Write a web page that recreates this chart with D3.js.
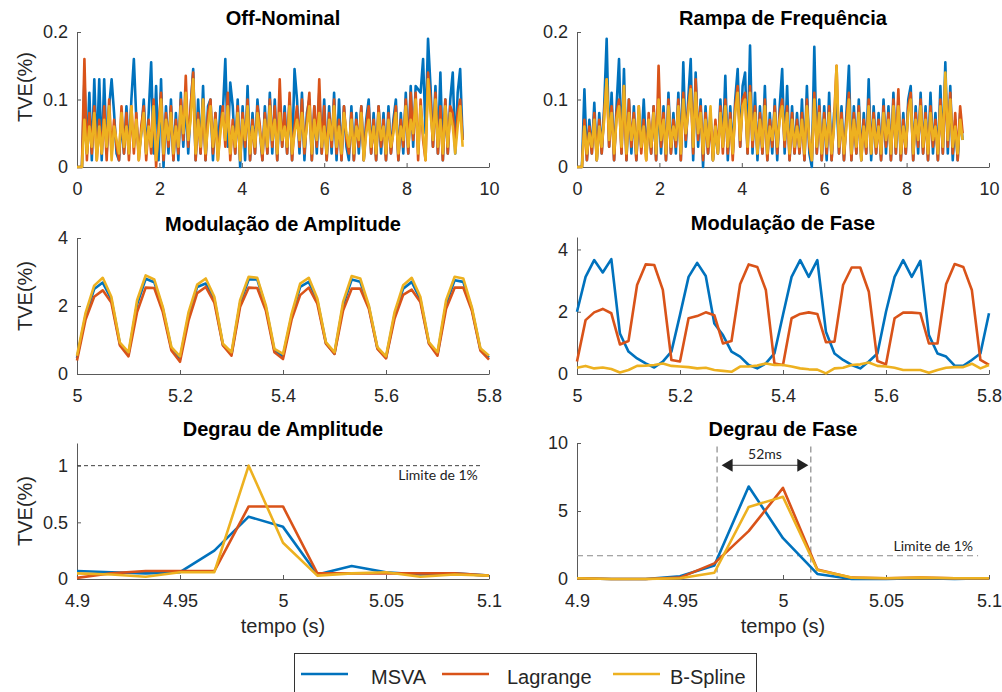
<!DOCTYPE html>
<html><head><meta charset="utf-8">
<script src="https://cdn.jsdelivr.net/npm/d3@7"></script>
<style>body{margin:0;background:#fff}svg text{font-family:"Liberation Sans",Arial,sans-serif}</style>
</head><body><svg id="c" width="1002" height="692"></svg>
<script>
// ---------------- data ----------------
const seriesNames = ["MSVA", "Lagrange", "B-Spline"];
const seriesColors = ["#0072BD", "#D95319", "#EDB120"];

// Off-Nominal (sample step 0.06 s, 0 .. 9.36 s)
const offMSVA = [0,0,0,.13,.02,.11,.01,.13,.02,.13, .01,.13,.02,.09,.13,.08,.02,.01,.07,.02, .09,.02,.10,.16,.07,.02,.05,.10,.02,.08, .155,.02,.12,.01,.13,.00,.09,.02,.10,.01, .08,.01,.11,.03,.10,.02,.09,.145,.01,.10, .02,.12,.01,.09,.10,.01,.08,.02,.09,.08, .16,.03,.125,.09,.02,.10,.00,.09,.01,.12, .01,.08,.02,.10,.05,.01,.09,.02,.11,.02, .10,.01,.09,.03,.09,.02,.10,.01,.145,.10, .02,.11,.01,.08,.10,.01,.09,.02,.11,.02, .10,.01,.09,.02,.11,.01,.10,.01,.09,.03, .01,.09,.01,.08,.02,.09,.01,.07,.10,.02, .08,.01,.09,.02,.08,.01,.09,.02,.07,.10, .01,.08,.02,.11,.02,.12,.03,.12,.115,.11, .16,.05,.19,.12,.03,.12,.02,.14,.01,.10, .02,.10,.14,.02,.11,.145,.04];
const offLagrange = [0,0,0,.16,.01,.08,.02,.09,.01,.07, .02,.09,.01,.10,.02,.07,.03,.01,.09,.02, .08,.01,.09,.02,.08,.01,.06,.09,.01,.07, .02,.10,.00,.06,.11,.01,.08,.03,.09,.01, .07,.02,.10,.04,.135,.03,.09,.14,.01,.08, .02,.10,.01,.08,.10,.02,.08,.01,.06,.09, .03,.11,.01,.07,.02,.09,.01,.08,.03,.10, .01,.07,.02,.09,.06,.01,.08,.02,.10,.03, .09,.01,.13,.03,.08,.02,.11,.01,.06,.09, .03,.10,.02,.07,.11,.01,.09,.03,.13,.02, .09,.01,.08,.03,.10,.02,.07,.01,.09,.04, .02,.08,.01,.07,.03,.09,.01,.06,.09,.02, .07,.01,.09,.03,.07,.01,.08,.02,.06,.09, .01,.07,.03,.10,.02,.11,.04,.11,.01,.10, .04,.01,.14,.10,.03,.11,.02,.09,.01,.10, .02,.09,.08,.03,.08,.10,.04];
const offBSpline = [0,0,0,.07,.02,.06,.03,.08,.01,.06, .02,.07,.03,.09,.01,.06,.04,.02,.08,.03, .06,.02,.09,.03,.07,.01,.05,.08,.02,.06, .03,.09,.01,.05,.10,.02,.07,.04,.08,.02, .06,.03,.09,.05,.11,.04,.07,.13,.02,.07, .03,.10,.02,.06,.09,.03,.07,.01,.05,.08, .04,.09,.02,.06,.03,.08,.01,.07,.04,.09, .02,.06,.03,.08,.05,.02,.07,.03,.09,.04, .07,.02,.08,.04,.06,.03,.09,.02,.05,.07, .04,.08,.03,.06,.09,.02,.07,.04,.08,.03, .06,.02,.07,.04,.09,.03,.06,.02,.08,.05, .03,.07,.02,.06,.04,.08,.01,.05,.07,.03, .06,.02,.08,.04,.06,.02,.07,.03,.05,.08, .02,.06,.04,.09,.03,.07,.05,.10,.02,.09, .05,.01,.13,.08,.04,.10,.03,.07,.02,.09, .03,.08,.06,.02,.06,.09,.03];

// Rampa de Frequência (sample step 0.06 s)
const rampMSVA = [0,0,0,.115,.01,.07,.02,.095,.01,.08, .02,.09,.19,.03,.11,.01,.09,.16,.02,.145, .01,.10,.02,.09,.01,.08,.03,.10,.02,.07, .02,.09,.01,.10,.02,.09,.01,.11,.02,.08, .02,.11,.01,.155,.03,.10,.16,.01,.14,.03, .10,.00,.09,.02,.08,.01,.06,.02,.10,.03, .135,.01,.09,.02,.10,.145,.03,.12,.14,.02, .18,.02,.11,.01,.09,.02,.12,.01,.08,.02, .10,.01,.09,.145,.02,.12,.01,.09,.02,.08, .02,.10,.01,.12,.02,.00,.178,.02,.10,.01, .09,.01,.11,.01,.08,.10,.02,.09,.01,.08, .15,.01,.09,.02,.10,.01,.08,.02,.13,.01, .09,.02,.08,.01,.10,.02,.09,.01,.11,.02, .10,.01,.08,.02,.10,.12,.01,.09,.02,.11, .02,.09,.01,.11,.02,.08,.01,.12,.02,.155, .02,.12,.01,.07,.01,.08,.04];
const rampLagrange = [0,0,0,.07,.01,.06,.02,.08,.01,.07, .02,.08,.13,.03,.09,.01,.08,.10,.02,.12, .01,.10,.03,.08,.01,.09,.02,.07,.01,.08, .02,.09,.01,.15,.03,.08,.01,.10,.02,.07, .03,.10,.01,.11,.04,.09,.12,.02,.13,.04, .09,.01,.08,.02,.07,.01,.07,.02,.09,.02, .10,.02,.08,.01,.09,.12,.03,.10,.11,.02, .12,.03,.09,.02,.08,.02,.10,.01,.07,.03, .09,.02,.08,.10,.03,.09,.01,.08,.02,.07, .02,.08,.01,.10,.03,.01,.11,.02,.09,.01, .08,.02,.09,.01,.07,.15,.02,.08,.01,.07, .11,.01,.08,.02,.09,.01,.07,.02,.10,.02, .08,.02,.07,.01,.09,.03,.08,.01,.10,.02, .115,.01,.07,.02,.09,.11,.01,.08,.03,.10, .02,.08,.01,.09,.03,.07,.01,.10,.02,.13, .03,.11,.02,.08,.01,.09,.05];
const rampBSpline = [0,0,0,.06,.02,.05,.03,.07,.01,.06, .03,.07,.13,.04,.08,.02,.07,.09,.03,.12, .02,.08,.04,.07,.02,.09,.03,.06,.01,.07, .03,.08,.02,.10,.04,.07,.02,.09,.03,.06, .04,.09,.02,.10,.05,.08,.115,.03,.11,.05, .08,.02,.07,.03,.09,.01,.06,.02,.08,.03, .09,.03,.07,.02,.08,.11,.04,.09,.10,.03, .11,.04,.08,.02,.07,.03,.09,.02,.06,.04, .08,.03,.07,.09,.04,.08,.02,.07,.03,.06, .03,.07,.02,.09,.04,.01,.10,.03,.08,.02, .07,.03,.08,.02,.06,.15,.03,.07,.02,.06, .10,.02,.07,.03,.08,.01,.06,.03,.09,.02, .07,.03,.06,.02,.08,.04,.07,.02,.09,.03, .09,.02,.06,.03,.08,.10,.02,.07,.04,.09, .03,.07,.02,.08,.04,.06,.02,.09,.03,.14, .04,.10,.03,.06,.02,.07,.04];

// Modulação de Amplitude (sample step 1/60 s, 5.0 .. 5.8 s)
const amMSVA = [.47,1.72,2.5,2.69,2.2,.88,.58,2.05,2.8,2.7,1.92,.74,.45,1.72,2.56,2.66,2.2,.86,.58,2.08,2.78,2.78,1.96,.69,.52,1.7,2.56,2.71,2.16,.91,.6,2.02,2.78,2.71,1.98,.76,.48,1.74,2.51,2.71,2.2,.91,.58,2.06,2.76,2.71,1.92,.72,.48];
const amLagrange = [.4,1.6,2.27,2.46,2.1,.84,.52,1.82,2.54,2.53,1.82,.69,.36,1.58,2.38,2.56,2.1,.84,.54,1.97,2.54,2.53,1.87,.64,.44,1.6,2.32,2.54,2.07,.89,.59,1.87,2.51,2.51,1.92,.74,.46,1.63,2.33,2.48,2.12,.89,.54,1.92,2.54,2.54,1.87,.69,.42];
const amBSpline = [.54,1.8,2.6,2.83,2.27,.92,.64,2.17,2.9,2.78,1.97,.79,.52,1.82,2.63,2.81,2.27,.89,.64,2.17,2.86,2.83,2.02,.74,.59,1.77,2.66,2.83,2.22,.94,.64,2.12,2.88,2.81,2.02,.79,.52,1.82,2.61,2.83,2.27,.94,.64,2.17,2.86,2.81,1.97,.76,.54];

// Modulação de Fase (sample step 1/60 s, 5.0 .. 5.8 s)
const pmMSVA = [2.0,3.12,3.66,3.26,3.69,1.3,.72,.5,.34,.21,.4,.72,1.9,3.12,3.57,3.15,1.62,1.25,.72,.56,.29,.18,.34,.66,1.9,3.12,3.66,3.12,3.66,1.36,.66,.45,.29,.18,.4,.66,2.0,3.12,3.66,3.12,3.63,1.25,.66,.56,.27,.26,.45,.66,1.95];
const pmLagrange = [.4,1.73,1.98,2.09,1.95,.95,1.06,2.86,3.52,3.5,2.7,.45,.4,1.79,1.86,1.98,1.89,.98,1.06,2.88,3.52,3.44,2.7,.34,.29,1.79,1.93,1.98,1.93,1.02,1.04,2.86,3.42,3.42,2.64,.42,.31,1.79,1.97,1.97,1.95,.98,.98,2.88,3.53,3.44,2.7,.45,.29];
const pmBSpline = [.2,.26,.18,.21,.16,.05,.13,.26,.27,.29,.34,.26,.24,.22,.18,.2,.13,.1,.07,.24,.24,.27,.34,.29,.29,.24,.18,.15,.14,.02,.18,.2,.29,.31,.37,.26,.24,.2,.13,.13,.13,.04,.13,.2,.22,.22,.33,.18,.29];

// Degrau de Amplitude (sample step 1/60 s, 4.9 .. 5.1 s)
const asMSVA = [.07,.06,.05,.06,.25,.55,.46,.04,.115,.06,.04,.05,.03];
const asLagrange = [.01,.05,.07,.07,.07,.64,.64,.05,.05,.05,.05,.05,.03];
const asBSpline = [.05,.04,.02,.06,.06,1.0,.32,.03,.05,.06,.02,.04,.03];

// Degrau de Fase (sample step 1/60 s, 4.9 .. 5.1 s)
const psMSVA = [.05,0,0,.2,1.0,6.8,3.0,.37,0,0,.05,0,.05];
const psLagrange = [.05,0,0,.1,1.15,3.52,6.7,.7,.1,.05,.1,.05,.05];
const psBSpline = [.05,0,0,.05,.46,5.3,6.04,.66,.1,.05,.1,.05,.05];

// time bases (sampling grids)
const tLong = d3.range(157).map(i => i * 0.06);
const tMod = d3.range(49).map(k => 5 + k / 60);
const tStep = d3.range(13).map(k => 4.9 + k / 60);

// tick values
const ticksLongX = [0, 2, 4, 6, 8, 10];
const ticksLongY = [0, 0.1, 0.2];
const ticksModX = [5, 5.2, 5.4, 5.6, 5.8];
const ticksModY = [0, 2, 4];
const ticksStepX = [4.9, 4.95, 5, 5.05, 5.1];
const ticksAmpStepY = [0, 0.5, 1];
const ticksPhaseStepY = [0, 5, 10];

// annotations
const ampLimit = 1, ampLimitEnd = 5.097;
const phaseLimit = 1.71, phaseLimitEnd = 5.0947;
const phaseWindow = [4.968, 5.0135], phaseWindowTop = 9.75;
const arrowSpan = [4.9702, 5.0123], arrowLevel = 8.36;
const limitLabel = "Limite de 1%", windowLabel = "52ms";

// ---------------- drawing ----------------
const svg = d3.select("#c");
svg.append("rect").attr("width", 1002).attr("height", 692).attr("fill", "#fff");
const AX = "#5a5a5a", TX = "#262626";

function panel(c) {
  const x = d3.scaleLinear().domain(c.xd).range([c.left, c.left + 412]);
  const y = d3.scaleLinear().domain(c.yd).range([c.bottom, c.top]);
  const g = svg.append("g");
  const xa = g.append("g").attr("transform", `translate(0,${c.bottom})`)
    .call(d3.axisBottom(x).tickValues(c.xt).tickFormat(d => String(d)).tickSizeInner(-4).tickSizeOuter(0).tickPadding(15));
  const ya = g.append("g").attr("transform", `translate(${c.left},0)`)
    .call(d3.axisLeft(y).tickValues(c.yt).tickFormat(d => String(d)).tickSizeInner(-4).tickSizeOuter(0).tickPadding(9));
  [xa, ya].forEach(a => {
    a.attr("font-family", null).attr("font-size", null);
    a.selectAll("path,line").attr("stroke", AX).attr("stroke-width", 1);
    a.selectAll("text").attr("fill", TX).style("font-size", "18px");
  });
  if (c.annot) c.annot(g, x, y);
  const line = d3.line().x((d, i) => x(c.t[i])).y(d => y(d));
  c.series.forEach((s, j) => g.append("path").attr("d", line(s)).attr("fill", "none")
    .attr("stroke", seriesColors[j]).attr("stroke-width", c.lw).attr("stroke-linejoin", "round"));
  g.append("text").attr("x", c.left + 206).attr("y", c.top - 7).attr("text-anchor", "middle")
    .style("font-size", "20px").style("font-weight", "bold").attr("fill", "#000").text(c.title);
  if (c.ylab) g.append("text").attr("transform", `translate(32,${c.ylab}) rotate(-90)`)
    .attr("text-anchor", "middle").style("font-size", "20px").attr("fill", TX).text("TVE(%)");
  if (c.xlab) g.append("text").attr("x", c.left + 206).attr("y", 633).attr("text-anchor", "middle")
    .style("font-size", "20px").attr("fill", TX).text("tempo (s)");
}

function limitLine(g, x, y, val, xEnd, dash, col, labelY) {
  g.append("line").attr("x1", x(x.domain()[0])).attr("x2", x(xEnd)).attr("y1", y(val)).attr("y2", y(val))
    .attr("stroke", col).attr("stroke-width", 1).attr("stroke-dasharray", dash);
  g.append("text").attr("x", x(xEnd) - 5).attr("y", labelY).attr("text-anchor", "end")
    .style("font-family", "Lato, 'Open Sans', sans-serif").style("font-size", "14px").attr("fill", "#222").text(limitLabel);
}

panel({title: "Off-Nominal", left: 77, top: 32, bottom: 167, xd: [0, 10], yd: [0, 0.2], xt: ticksLongX, yt: ticksLongY,
  t: tLong, series: [offMSVA, offLagrange, offBSpline], lw: 2.6, ylab: 87});
panel({title: "Rampa de Frequência", left: 577, top: 32, bottom: 167, xd: [0, 10], yd: [0, 0.2], xt: ticksLongX, yt: ticksLongY,
  t: tLong, series: [rampMSVA, rampLagrange, rampBSpline], lw: 2.6});
panel({title: "Modulação de Amplitude", left: 77, top: 238, bottom: 374, xd: [5, 5.8], yd: [0, 4], xt: ticksModX, yt: ticksModY,
  t: tMod, series: [amMSVA, amLagrange, amBSpline], lw: 2.6, ylab: 296});
panel({title: "Modulação de Fase", left: 577, top: 237, bottom: 374, xd: [5, 5.8], yd: [0, 4.4], xt: ticksModX, yt: ticksModY,
  t: tMod, series: [pmMSVA, pmLagrange, pmBSpline], lw: 2.6});
panel({title: "Degrau de Amplitude", left: 77, top: 443, bottom: 579, xd: [4.9, 5.1], yd: [0, 1.2], xt: ticksStepX, yt: ticksAmpStepY,
  t: tStep, series: [asMSVA, asLagrange, asBSpline], lw: 2.6, ylab: 511, xlab: true,
  annot: (g, x, y) => limitLine(g, x, y, ampLimit, ampLimitEnd, "4,3", "#404040", 480)});
panel({title: "Degrau de Fase", left: 577, top: 443, bottom: 579, xd: [4.9, 5.1], yd: [0, 10], xt: ticksStepX, yt: ticksPhaseStepY,
  t: tStep, series: [psMSVA, psLagrange, psBSpline], lw: 2.6, xlab: true,
  annot: (g, x, y) => {
    limitLine(g, x, y, phaseLimit, phaseLimitEnd, "6,4", "#8a8a8a", 551);
    phaseWindow.forEach(v => g.append("line").attr("x1", x(v)).attr("x2", x(v)).attr("y1", y(phaseWindowTop)).attr("y2", y(0))
      .attr("stroke", "#8a8a8a").attr("stroke-width", 1.2).attr("stroke-dasharray", "6,4"));
    const ay = y(arrowLevel), a0 = x(arrowSpan[0]), a1 = x(arrowSpan[1]);
    g.append("line").attr("x1", a0 + 8).attr("x2", a1 - 8).attr("y1", ay).attr("y2", ay).attr("stroke", "#444").attr("stroke-width", 1);
    g.append("path").attr("d", `M${a0},${ay}L${a0 + 11},${ay - 6.5}L${a0 + 11},${ay + 6.5}Z`).attr("fill", "#222");
    g.append("path").attr("d", `M${a1},${ay}L${a1 - 11},${ay - 6.5}L${a1 - 11},${ay + 6.5}Z`).attr("fill", "#222");
    g.append("text").attr("x", (a0 + a1) / 2).attr("y", ay - 6).attr("text-anchor", "middle")
      .style("font-family", "Lato, 'Open Sans', sans-serif").style("font-size", "14px").attr("fill", "#222").text(windowLabel);
  }});

// legend
const lg = svg.append("g");
lg.append("rect").attr("x", 294.5).attr("y", 653.5).attr("width", 462).attr("height", 60)
  .attr("fill", "#fff").attr("stroke", "#333").attr("stroke-width", 1);
const legendLineX = [301, 442, 613];
const legendTextX = [371, 507, 670];
seriesNames.forEach((n, j) => {
  lg.append("line").attr("x1", legendLineX[j]).attr("x2", legendLineX[j] + 47).attr("y1", 674).attr("y2", 674)
    .attr("stroke", seriesColors[j]).attr("stroke-width", 2.6);
  lg.append("text").attr("x", legendTextX[j]).attr("y", 684).style("font-size", "20px").attr("fill", TX).text(n);
});
</script></body></html>
